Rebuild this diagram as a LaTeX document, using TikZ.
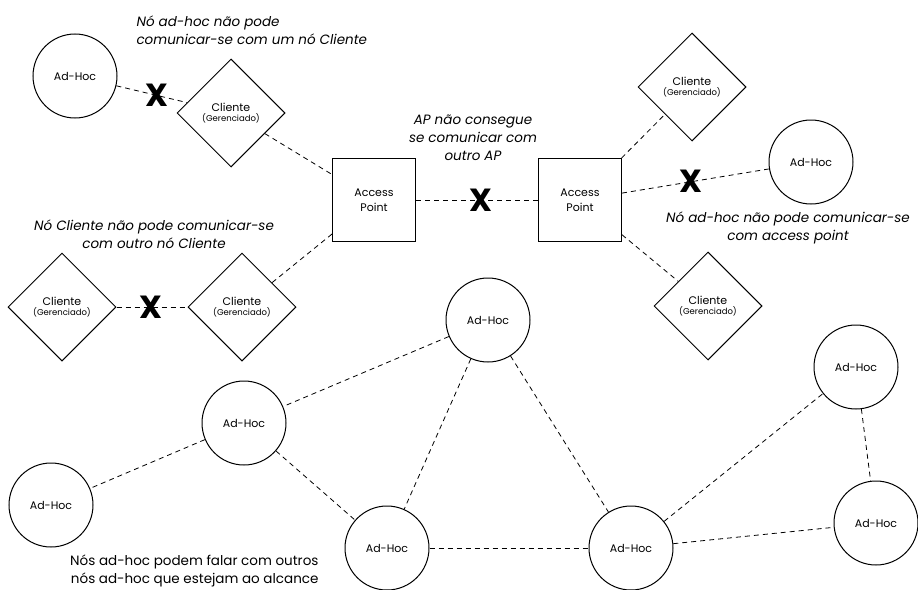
\documentclass[tikz,border=0pt]{standalone}
\usepackage{fontspec}
\setmainfont{Poppins}
\usetikzlibrary{shapes.geometric}

\begin{document}
\begin{tikzpicture}[x=1pt,y=-1pt,
		adhoc/.style={draw,circle,line width=1pt,minimum size=84pt,inner sep=0pt,font=\fontsize{11}{13}\selectfont},
		ap/.style={draw,rectangle,line width=1pt,minimum size=83pt,inner sep=0pt,align=center,font=\fontsize{11}{15}\selectfont},
		cliente/.style={draw,diamond,aspect=1,line width=1pt,minimum size=108pt,inner sep=0pt,align=center,font=\fontsize{11}{13}\selectfont},
		link/.style={line width=0.8pt,dash pattern=on 5pt off 4pt},
		cross/.style={inner sep=0pt,font=\fontsize{32}{32}\bfseries\selectfont},
		note/.style={align=center,font=\fontsize{13.5}{18}\itshape\selectfont}]
		\useasboundingbox (0,0) rectangle (918,589);
		\node[adhoc] (ah1) at (75,76) {Ad-Hoc};
		\node[adhoc] (ah2) at (811,162) {Ad-Hoc};
		\node[adhoc] (ah3) at (488,320) {Ad-Hoc};
		\node[adhoc] (ah4) at (244,423) {Ad-Hoc};
		\node[adhoc] (ah5) at (51,505) {Ad-Hoc};
		\node[adhoc] (ah6) at (387,548) {Ad-Hoc};
		\node[adhoc] (ah7) at (631,548) {Ad-Hoc};
		\node[adhoc] (ah8) at (856,367) {Ad-Hoc};
		\node[adhoc] (ah9) at (876,523) {Ad-Hoc};
		\node[ap] (ap1) at (374,200) {Access\\Point};
		\node[ap] (ap2) at (580,200) {Access\\Point};
		\node[cliente] (cl1) at (231,113) {Cliente\\[-3pt]{\fontsize{8.5}{10}\selectfont(Gerenciado)}};
		\node[cliente] (cl2) at (692,87) {Cliente\\[-3pt]{\fontsize{8.5}{10}\selectfont(Gerenciado)}};
		\node[cliente] (cl3) at (708,306) {Cliente\\[-3pt]{\fontsize{8.5}{10}\selectfont(Gerenciado)}};
		\node[cliente] (cl4) at (62,307) {Cliente\\[-3pt]{\fontsize{8.5}{10}\selectfont(Gerenciado)}};
		\node[cliente] (cl5) at (242,307) {Cliente\\[-3pt]{\fontsize{8.5}{10}\selectfont(Gerenciado)}};
		\draw[link] (ah1) -- node[cross,pos=0.58] (x1) {X} (cl1);
		\draw[link] (cl1) -- (ap1);
		\draw[link] (ap1) -- node[cross,pos=0.53] (x2) {X} (ap2);
		\draw[link] (ap2) -- (cl2);
		\draw[link] (ap2) -- node[cross,pos=0.47] (x3) {X} (ah2);
		\draw[link] (ap2) -- (cl3);
		\draw[link] (ap1) -- (cl5);
		\draw[link] (cl4) -- node[cross,pos=0.49] (x4) {X} (cl5);
		\draw[link] (ah3) -- (ah4);
		\draw[link] (ah3) -- (ah6);
		\draw[link] (ah3) -- (ah7);
		\draw[link] (ah4) -- (ah5);
		\draw[link] (ah4) -- (ah6);
		\draw[link] (ah6) -- (ah7);
		\draw[link] (ah7) -- (ah8);
		\draw[link] (ah7) -- (ah9);
		\draw[link] (ah8) -- (ah9);
		\node[note,align=left,anchor=west] (t1) at (133,30) {Nó ad-hoc não pode\\comunicar-se com um nó Cliente};
		\node[note] (t2) at (473,138) {AP não consegue\\se comunicar com\\outro AP};
		\node[note] (t3) at (788,228) {Nó ad-hoc não pode comunicar-se\\com access point};
		\node[note] (t4) at (154,234) {Nó Cliente não pode comunicar-se\\com outro nó Cliente};
		\node[align=right,anchor=east,font=\fontsize{13.5}{18}\selectfont] (t5) at (322,571) {Nós ad-hoc podem falar com outros\\nós ad-hoc que estejam ao alcance};
	\end{tikzpicture}
\end{document}
